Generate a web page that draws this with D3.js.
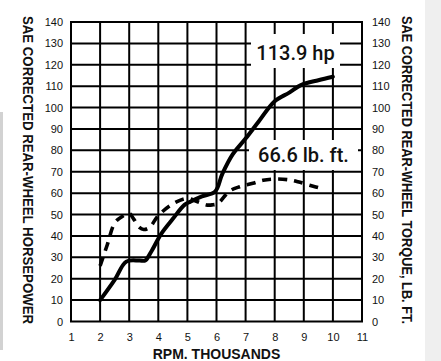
<!DOCTYPE html>
<html>
<head>
<meta charset="utf-8">
<script src="https://cdn.jsdelivr.net/npm/d3@7"></script>
<style>
  body { margin: 0; background: #fff; }
  svg { display: block; }
</style>
</head>
<body>
<script>
// horsepower curve
const hpRpm = [2, 2.5, 2.9, 3.35, 3.55, 3.75, 4.1, 4.5, 4.9, 5.1, 5.5, 5.95, 6.2, 6.55, 7, 7.45, 8, 8.5, 8.9, 9.5, 10];
const hpVals = [10, 19.5, 28, 28.5, 28.5, 32.5, 41, 48, 54.5, 56, 58.5, 60.7, 69, 78, 85.5, 93.5, 103, 107, 110.5, 112.8, 114.4];

// torque curve (dashed)
const tqRpm = [2, 2.25, 2.5, 2.75, 3.0, 3.15, 3.35, 3.5, 3.7, 4.0, 4.5, 5.0, 5.35, 5.65, 5.85, 6.05, 6.45, 6.8, 7.25, 7.6, 8.05, 8.5, 8.8, 9.2, 9.7];
const tqVals = [26, 36, 46, 49, 50.5, 48, 44, 43, 44, 49.5, 55, 57.5, 56, 54.5, 54.5, 55.2, 61, 63, 64.6, 66, 66.6, 66.2, 65.3, 63.7, 61.8];

const xTicks = [1, 2, 3, 4, 5, 6, 7, 8, 9, 10, 11];
const yTicks = [0, 10, 20, 30, 40, 50, 60, 70, 80, 90, 100, 110, 120, 130, 140];

const peakLabels = ["113.9 hp", "66.6 lb. ft."];

const W = 441, H = 361;
const svg = d3.select("body").append("svg").attr("width", W).attr("height", H);

// page edges (grey strip on the right, thin bar on the left)
svg.append("rect").attr("x", 425).attr("y", 0).attr("width", 16).attr("height", H).attr("fill", "#efefef");
svg.append("rect").attr("x", 0).attr("y", 112).attr("width", 3).attr("height", 238).attr("fill", "#d2d2d2");

const x = d3.scaleLinear().domain([1, 11]).range([71, 362]);
const y = d3.scaleLinear().domain([0, 140]).range([321.5, 22]);

const grid = svg.append("g").attr("stroke", "#000").attr("stroke-width", 2);
grid.selectAll("line.h").data(yTicks).join("line")
  .attr("x1", x(1) - 1).attr("x2", x(11) + 1)
  .attr("y1", d => y(d)).attr("y2", d => y(d));
grid.selectAll("line.v").data(xTicks).join("line")
  .attr("x1", d => x(d)).attr("x2", d => x(d))
  .attr("y1", y(140)).attr("y2", y(0));

const tickFont = "'Liberation Sans', Arial, sans-serif";

// left and right value axes (text only)
const leftAxis = d3.axisLeft(y).tickValues(yTicks).tickSize(0).tickPadding(8);
const gl = svg.append("g").attr("transform", `translate(${x(1)},0)`).call(leftAxis);
const rightAxis = d3.axisRight(y).tickValues(yTicks).tickSize(0).tickPadding(10);
const gr = svg.append("g").attr("transform", `translate(${x(11)},0)`).call(rightAxis);
const bottomAxis = d3.axisBottom(x).tickValues(xTicks).tickSize(0).tickPadding(12);
const gb = svg.append("g").attr("transform", `translate(0,${y(0)})`).call(bottomAxis);
[gl, gr, gb].forEach(g => {
  g.select(".domain").remove();
  g.selectAll("text").attr("font-family", tickFont).attr("font-size", 11).attr("fill", "#111");
});

// the two curves
const hpData = hpRpm.map((r, i) => [r, hpVals[i]]);
const tqData = tqRpm.map((r, i) => [r, tqVals[i]]);
const line = d3.line().x(d => x(d[0])).y(d => y(d[1])).curve(d3.curveCatmullRom.alpha(0.5));

svg.append("path").datum(hpData).attr("d", line)
  .attr("fill", "none").attr("stroke", "#000").attr("stroke-width", 4)
  .attr("stroke-linecap", "round").attr("stroke-linejoin", "round");
svg.append("path").datum(tqData).attr("d", line)
  .attr("fill", "none").attr("stroke", "#000").attr("stroke-width", 3.6)
  .attr("stroke-dasharray", "9,7").attr("stroke-linecap", "butt");

// peak callouts
const labelFont = "Roboto, 'Liberation Sans', sans-serif";
const boxes = [
  { text: peakLabels[0], x: 251, y: 34, w: 89, h: 34, base: 60 },
  { text: peakLabels[1], x: 249, y: 140, w: 109, h: 30, base: 162 }
];
boxes.forEach(b => {
  svg.append("rect").attr("x", b.x).attr("y", b.y).attr("width", b.w).attr("height", b.h).attr("fill", "#fff");
  svg.append("text").attr("x", b.x + b.w / 2).attr("y", b.base)
    .attr("text-anchor", "middle").attr("font-family", labelFont)
    .attr("font-weight", 500).attr("font-size", 20).attr("fill", "#111").text(b.text);
});

// axis titles
const titleFont = "'Liberation Sans Narrow', 'Arial Narrow', 'Liberation Sans', sans-serif";
function vTitle(txt, cx) {
  svg.append("text")
    .attr("transform", `translate(${cx},${(15 + 325) / 2}) rotate(90)`)
    .attr("text-anchor", "middle").attr("dominant-baseline", "central")
    .attr("font-family", titleFont).attr("font-weight", "bold").attr("font-size", 14)
    .attr("textLength", 308).attr("lengthAdjust", "spacingAndGlyphs")
    .attr("fill", "#111").text(txt);
}
vTitle("SAE CORRECTED REAR-WHEEL HORSEPOWER", 27.5);
vTitle("SAE CORRECTED REAR-WHEEL TORQUE, LB. FT.", 407);

svg.append("text").attr("x", x(6)).attr("y", 359)
  .attr("text-anchor", "middle").attr("font-family", titleFont)
  .attr("font-weight", "bold").attr("font-size", 14).attr("fill", "#111")
  .text("RPM. THOUSANDS");
</script>
</body>
</html>
